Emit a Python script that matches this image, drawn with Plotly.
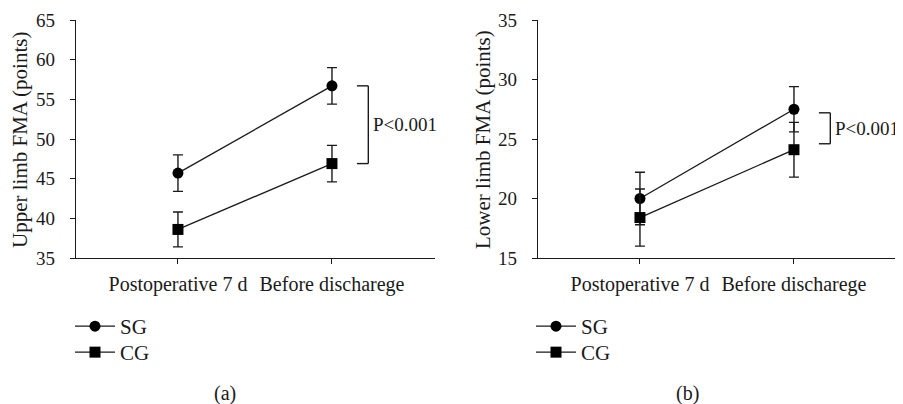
import plotly.graph_objects as go

# ---------------- data ----------------
categories = ["Postoperative 7 d", "Before discharege"]

upper_sg = [45.7, 56.7]
upper_sg_err = [2.3, 2.3]
upper_cg = [38.6, 46.9]
upper_cg_err = [2.2, 2.3]

lower_sg = [20.0, 27.5]
lower_sg_err = [2.2, 1.9]
lower_cg = [18.4, 24.1]
lower_cg_err = [2.4, 2.3]

upper_ticks = [35, 40, 45, 50, 55, 60, 65]
lower_ticks = [15, 20, 25, 30, 35]

bracket_a = [56.7, 46.9]
bracket_b = [27.2, 24.6]
p_text = "P<0.001"

panel_labels = ["(a)", "(b)"]
y_titles = ["Upper limb FMA (points)", "Lower limb FMA (points)"]

# ---------------- style ----------------
FONT = "Liberation Serif"
INK = "#1a1a1a"
OFF = 8                      # page body margin
W, H = 903 - OFF, 404 - OFF  # figure size so the page fits the window

def sx(p):
    """screen x pixel -> paper fraction"""
    return (p - OFF) / W

def sy(p):
    """screen y pixel -> paper fraction"""
    return 1 - (p - OFF) / H

fig = go.Figure()

panels = [
    dict(sg=upper_sg, sge=upper_sg_err, cg=upper_cg, cge=upper_cg_err,
         xa="x", ya="y", legends=("legend", "legend2")),
    dict(sg=lower_sg, sge=lower_sg_err, cg=lower_cg, cge=lower_cg_err,
         xa="x2", ya="y2", legends=("legend3", "legend4")),
]

for p in panels:
    for (name, vals, errs, sym), lg in zip(
            [("SG", p["sg"], p["sge"], "circle"),
             ("CG", p["cg"], p["cge"], "square")], p["legends"]):
        fig.add_trace(go.Scatter(
            x=categories, y=vals, name=name, mode="lines+markers",
            xaxis=p["xa"], yaxis=p["ya"], legend=lg,
            line=dict(color=INK, width=1.3),
            marker=dict(symbol=sym, size=11, color="black"),
            error_y=dict(type="data", array=errs, visible=True,
                         color=INK, thickness=1.4, width=5),
        ))

ydom = [sy(258), sy(20)]
xrange_ = [-0.662, 1.669]

axis_common = dict(
    showline=True, linecolor=INK, linewidth=1.3, ticks="outside",
    ticklen=5, tickwidth=1.3, tickcolor=INK, showgrid=False, zeroline=False,
    automargin=False,
)
xfont = dict(family=FONT, size=20, color=INK)
yfont = dict(family=FONT, size=19, color=INK)

legend_common = dict(xanchor="left", yanchor="top",
                     font=dict(family=FONT, size=21, color=INK),
                     bgcolor="rgba(0,0,0,0)", itemwidth=40, tracegroupgap=0)

fig.update_layout(
    width=W, height=H,
    margin=dict(l=0, r=0, t=0, b=0, autoexpand=False),
    template="none",
    paper_bgcolor="white", plot_bgcolor="white",
    font=dict(family=FONT, color=INK, size=19),
    xaxis=dict(domain=[sx(76), sx(435)], anchor="y", type="category",
               range=xrange_, ticklabelstandoff=3, tickfont=xfont, **axis_common),
    yaxis=dict(domain=ydom, anchor="x", range=[upper_ticks[0], upper_ticks[-1]],
               tickvals=upper_ticks, ticklabelstandoff=11, tickfont=yfont,
               **axis_common),
    xaxis2=dict(domain=[sx(538), sx(897)], anchor="y2", type="category",
                range=xrange_, ticklabelstandoff=3, tickfont=xfont, **axis_common),
    yaxis2=dict(domain=ydom, anchor="x2", range=[lower_ticks[0], lower_ticks[-1]],
                tickvals=lower_ticks, ticklabelstandoff=11, tickfont=yfont,
                **axis_common),
    legend=dict(x=sx(70), y=sy(306), **legend_common),
    legend2=dict(x=sx(70), y=sy(332), **legend_common),
    legend3=dict(x=sx(531), y=sy(306), **legend_common),
    legend4=dict(x=sx(531), y=sy(332), **legend_common),
    showlegend=True,
)

# axis titles
for xc, title in zip([20, 483], y_titles):
    fig.add_annotation(text=title, xref="paper", yref="paper",
                       x=sx(xc), y=sy(140), textangle=-90,
                       showarrow=False, xanchor="center", yanchor="middle",
                       font=dict(family=FONT, size=21, color=INK))

# panel captions
for xc, lab in zip([225, 687], panel_labels):
    fig.add_annotation(text=lab, xref="paper", yref="paper",
                       x=sx(xc), y=sy(393), showarrow=False,
                       xanchor="center", yanchor="middle",
                       font=dict(family=FONT, size=20, color=INK))

# significance brackets
for (xa, ya, br) in [("x", "y", bracket_a), ("x2", "y2", bracket_b)]:
    x0, x1 = 1.162, 1.236
    top, bot = br
    for (ax, ay, bx, by) in [(x0, top, x1, top), (x1, top, x1, bot), (x1, bot, x0, bot)]:
        fig.add_shape(type="line", xref=xa, yref=ya, x0=ax, y0=ay, x1=bx, y1=by,
                      line=dict(color=INK, width=1.4))
    fig.add_annotation(text=p_text, xref=xa, yref=ya, x=x1 + 0.02,
                       y=(top + bot) / 2, showarrow=False, xanchor="left",
                       yanchor="middle",
                       font=dict(family=FONT, size=19, color=INK))

fig.write_html("out.html")
